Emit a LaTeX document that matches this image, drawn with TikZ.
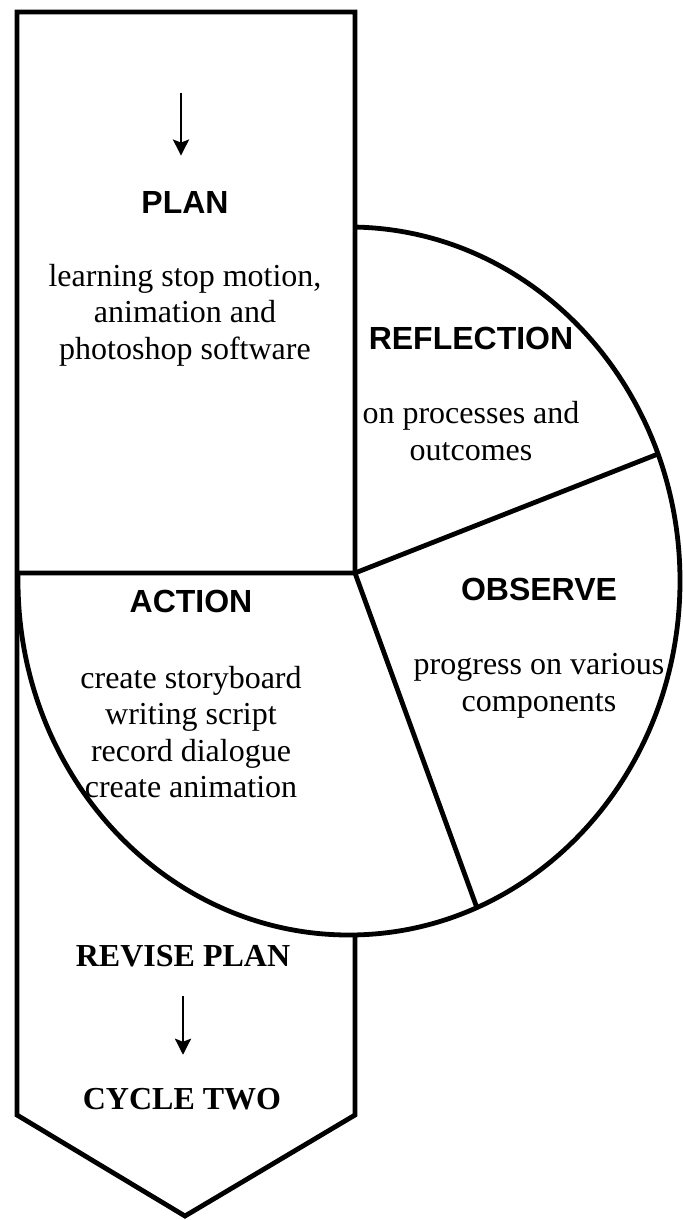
\documentclass[tikz,border=0pt]{standalone}
\usepackage{fontspec}
\setmainfont{Liberation Serif}
\setsansfont{Liberation Sans}
\usetikzlibrary{arrows.meta}

\begin{document}
\begin{tikzpicture}[x=0.5pt, y=-0.5pt, line width=2.4pt,
	head/.style={font=\sffamily\bfseries\fontsize{16}{19}\selectfont, inner sep=0pt},
	headrm/.style={font=\bfseries\fontsize{16}{19}\selectfont, inner sep=0pt},
	body/.style={font=\fontsize{16}{18.3}\selectfont, align=center, inner sep=0pt},
	down/.style={line width=1.4pt, -{Stealth[length=8pt, width=8pt, inset=1.5pt]}}]
	\useasboundingbox (0,0) rectangle (682,1220);
	%circle
	\draw[fill=white] (349,581) ellipse [x radius=331, y radius=354];
	\fill[white] (17,12) rectangle (355,573);
	%sectors
	\coordinate (hub) at (355,573);
	\draw (17,573) -- (hub) -- (658,454);
	\draw (hub) -- (477,908);
	%arrow shape
	\draw (355,935) -- (355,1115) -- (185,1216) -- (17,1115) -- (17,12) -- (355,12) -- (hub);
	%labels
	\node[head] (plan) at (185,202) {PLAN};
	\node[body] (plantext) at (185,315) {learning stop motion,\\animation and\\photoshop software};
	\node[head] (reflection) at (471,338) {REFLECTION};
	\node[body] (reflecttext) at (471,431) {on processes and\\outcomes};
	\node[head] (observe) at (539,589) {OBSERVE};
	\node[body] (observetext) at (539,686) {progress on various\\components};
	\node[head] (action) at (191,601) {ACTION};
	\node[body] (actiontext) at (191,732) {create storyboard\\writing script\\record dialogue\\create animation};
	\node[headrm] (revise) at (183,956) {REVISE PLAN};
	\node[headrm] (cycle) at (182,1099) {CYCLE TWO};
	%arrows
	\coordinate (plan arrow) at (181,93);
	\draw[down, shorten >=16.5pt] (plan arrow) -- (plan arrow |- plan.north);
	\draw[down, shorten <=13.5pt, shorten >=15.5pt] (revise.south) -- (revise.south |- cycle.north);
\end{tikzpicture}
\end{document}
